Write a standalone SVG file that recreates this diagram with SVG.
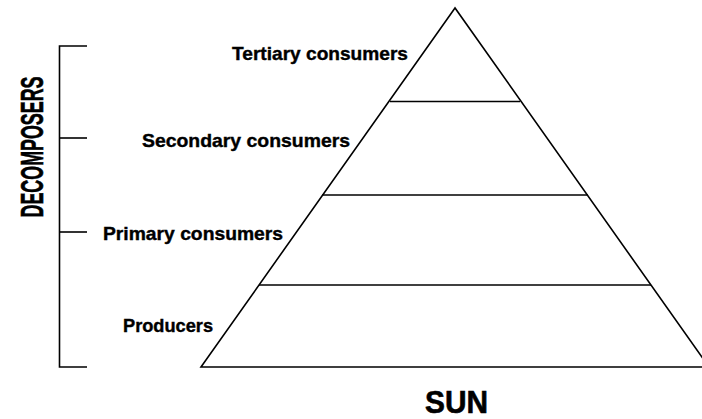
<svg xmlns="http://www.w3.org/2000/svg" width="702" height="419" viewBox="0 0 702 419">
<style>
.ln{stroke:#000;stroke-width:1.6;fill:none}
.lbl{font-family:"Liberation Sans",Arial,sans-serif;font-weight:bold;font-size:19px;fill:#000;stroke:#000;stroke-width:0.4;text-anchor:start}
.big{font-family:"Liberation Sans",Arial,sans-serif;font-weight:bold;font-size:31px;fill:#000;stroke:#000;stroke-width:0.6;text-anchor:middle}
</style>
<rect width="702" height="419" fill="#fff"/>
<g id="pyramid">
<polygon class="ln" points="455,8 201,367 709,367"/>
<line class="ln" x1="390" y1="101.5" x2="520" y2="101.5"/>
<line class="ln" x1="322" y1="195" x2="588" y2="195"/>
<line class="ln" x1="259" y1="285" x2="651" y2="285"/>
</g>
<g id="bracket">
<polyline class="ln" points="87,46 59.5,46 59.5,367 87,367"/>
<line class="ln" x1="59.5" y1="138" x2="87" y2="138"/>
<line class="ln" x1="59.5" y1="232" x2="87" y2="232"/>
</g>
<g id="labels">
<text class="lbl" x="232" y="60" textLength="176" lengthAdjust="spacingAndGlyphs">Tertiary consumers</text>
<text class="lbl" x="142" y="147" textLength="208" lengthAdjust="spacingAndGlyphs">Secondary consumers</text>
<text class="lbl" x="103" y="240" textLength="180" lengthAdjust="spacingAndGlyphs">Primary consumers</text>
<text class="lbl" x="123" y="332" textLength="90" lengthAdjust="spacingAndGlyphs">Producers</text>
<text class="big" transform="translate(43,147) rotate(-90)" x="0" y="0" textLength="141" lengthAdjust="spacingAndGlyphs">DECOMPOSERS</text>
<text class="big" x="456.5" y="413" textLength="63" lengthAdjust="spacingAndGlyphs">SUN</text>
</g>
</svg>
